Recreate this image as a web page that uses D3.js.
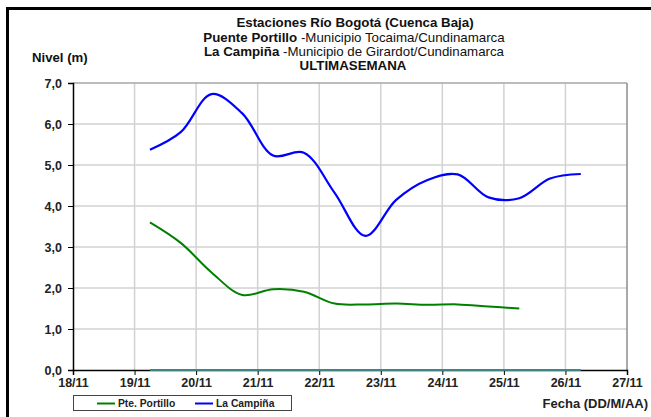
<!DOCTYPE html>
<html>
<head>
<meta charset="utf-8">
<script src="https://cdn.jsdelivr.net/npm/d3@7"></script>
<style>
  body { margin: 0; background: #fff; }
  svg text { font-family: "Liberation Sans", Arial, sans-serif; }
</style>
</head>
<body>
<div id="chart"></div>
<script>
// dias (dia del mes, fraccion = hora) de cada lectura
var tiempo = [19.25, 19.75, 20.25, 20.75, 21.25, 21.75, 22.25, 22.75, 23.25, 23.75, 24.25, 24.75, 25.25, 25.75, 26.25];
var portillo = [3.60, 3.10, 2.38, 1.83, 1.97, 1.91, 1.62, 1.60, 1.62, 1.59, 1.60, 1.55, 1.50];
var campina = [5.37, 5.80, 6.73, 6.26, 5.23, 5.30, 4.32, 3.27, 4.15, 4.63, 4.77, 4.21, 4.19, 4.67, 4.78];
var cero = [0, 0, 0, 0, 0, 0, 0, 0, 0, 0, 0, 0, 0, 0, 0];

var diasTicks = [18, 19, 20, 21, 22, 23, 24, 25, 26, 27];
var diasLabels = ['18/11', '19/11', '20/11', '21/11', '22/11', '23/11', '24/11', '25/11', '26/11', '27/11'];
var nivelTicks = [0, 1, 2, 3, 4, 5, 6, 7];

var w = 651;
var h = 417;
var pLeft = 73, pRight = 627, pTop = 83, pBottom = 370;

var svg = d3.select('#chart').append('svg')
  .attr('width', w)
  .attr('height', h);

// marco negro (solo se ve arriba y a la izquierda)
svg.append('line')
  .attr('x1', 7.5).attr('x2', 7.5).attr('y1', 7).attr('y2', h)
  .attr('stroke', '#000').attr('stroke-width', 3);
svg.append('line')
  .attr('x1', 6).attr('x2', w).attr('y1', 8.5).attr('y2', 8.5)
  .attr('stroke', '#000').attr('stroke-width', 3);

var x = d3.scaleLinear().domain([18, 27]).range([pLeft, pRight]);
var y = d3.scaleLinear().domain([0, 7]).range([pBottom, pTop]);

// grilla
svg.append('g')
  .selectAll('line')
  .data(nivelTicks.slice(1, -1))
  .enter().append('line')
  .attr('x1', pLeft).attr('x2', pRight)
  .attr('y1', function (d) { return y(d); })
  .attr('y2', function (d) { return y(d); })
  .attr('stroke', '#d2d2d2')
  .attr('stroke-width', 1.5);

svg.append('g')
  .selectAll('line')
  .data(diasTicks.slice(1, -1))
  .enter().append('line')
  .attr('x1', function (d) { return x(d); })
  .attr('x2', function (d) { return x(d); })
  .attr('y1', pTop).attr('y2', pBottom)
  .attr('stroke', '#d2d2d2')
  .attr('stroke-width', 1.5);

// borde superior y derecho
svg.append('line')
  .attr('x1', pLeft).attr('x2', pRight)
  .attr('y1', pTop).attr('y2', pTop)
  .attr('stroke', '#a6a6a6').attr('stroke-width', 1.5);
svg.append('line')
  .attr('x1', pRight).attr('x2', pRight)
  .attr('y1', pTop).attr('y2', pBottom)
  .attr('stroke', '#8c8c8c').attr('stroke-width', 1.5);

// ejes
var yAxis = svg.append('g')
  .attr('transform', 'translate(' + pLeft + ',0)')
  .call(d3.axisLeft(y).tickValues(nivelTicks).tickSize(5).tickPadding(6)
    .tickFormat(function (d) { return d3.format('.1f')(d).replace('.', ','); }));

var xAxis = svg.append('g')
  .attr('transform', 'translate(0,' + pBottom + ')')
  .call(d3.axisBottom(x).tickValues(diasTicks).tickSize(5).tickPadding(3)
    .tickFormat(function (d, i) { return diasLabels[i]; }));

[yAxis, xAxis].forEach(function (a) {
  a.select('.domain').attr('stroke', '#000').attr('stroke-width', 1.5);
  a.selectAll('.tick line').attr('stroke', '#000');
  a.selectAll('.tick text')
    .attr('fill', '#222')
    .attr('font-size', '12.5px')
    .attr('font-weight', 'bold');
});

// series
var curva = d3.curveCatmullRom.alpha(0.5);

function serie(valores, color, ancho) {
  var line = d3.line()
    .x(function (d, i) { return x(tiempo[i]); })
    .y(function (d) { return y(d); })
    .curve(curva);
  svg.append('path')
    .datum(valores)
    .attr('d', line)
    .attr('fill', 'none')
    .attr('stroke', color)
    .attr('stroke-width', ancho);
}

serie(cero, '#3f8585', 2);
serie(portillo, '#008000', 2);
serie(campina, '#0000ff', 2.2);

// titulos
var titulo = svg.append('text')
  .attr('text-anchor', 'middle')
  .attr('font-size', '13.3px')
  .attr('fill', '#111');

titulo.append('tspan').attr('x', 355).attr('y', 27)
  .attr('font-weight', 'bold')
  .text('Estaciones Río Bogotá (Cuenca Baja)');

var l2 = titulo.append('tspan').attr('x', 354).attr('y', 41.5);
l2.append('tspan').attr('font-weight', 'bold').text('Puente Portillo');
l2.append('tspan').text(' -Municipio Tocaima/Cundinamarca');

var l3 = titulo.append('tspan').attr('x', 354).attr('y', 56);
l3.append('tspan').attr('font-weight', 'bold').text('La Campiña');
l3.append('tspan').text(' -Municipio de Girardot/Cundinamarca');

titulo.append('tspan').attr('x', 353).attr('y', 70)
  .attr('font-weight', 'bold')
  .text('ULTIMASEMANA');

svg.append('text')
  .attr('x', 32).attr('y', 62)
  .attr('font-size', '13.2px')
  .attr('font-weight', 'bold')
  .attr('fill', '#111')
  .text('Nivel (m)');

svg.append('text')
  .attr('x', 648).attr('y', 408)
  .attr('text-anchor', 'end')
  .attr('font-size', '13px')
  .attr('font-weight', 'bold')
  .attr('fill', '#222')
  .text('Fecha (DD/M/AA)');

// leyenda
var leyenda = [
  { nombre: 'Pte. Portillo', color: '#008000' },
  { nombre: 'La Campiña', color: '#0000ff' }
];

svg.append('rect')
  .attr('x', 73.5).attr('y', 395.5)
  .attr('width', 218).attr('height', 15)
  .attr('fill', '#fff')
  .attr('stroke', '#444');

var item = svg.selectAll('.ley')
  .data(leyenda)
  .enter().append('g')
  .attr('class', 'ley')
  .attr('transform', function (d, i) { return 'translate(' + (97 + i * 98) + ',403.5)'; });

item.append('line')
  .attr('x1', 0).attr('x2', 18)
  .attr('stroke', function (d) { return d.color; })
  .attr('stroke-width', 2);

item.append('text')
  .attr('x', 21).attr('y', 3.5)
  .attr('font-size', '10.3px')
  .attr('font-weight', 'bold')
  .attr('fill', '#222')
  .text(function (d) { return d.nombre; });
</script>
</body>
</html>
